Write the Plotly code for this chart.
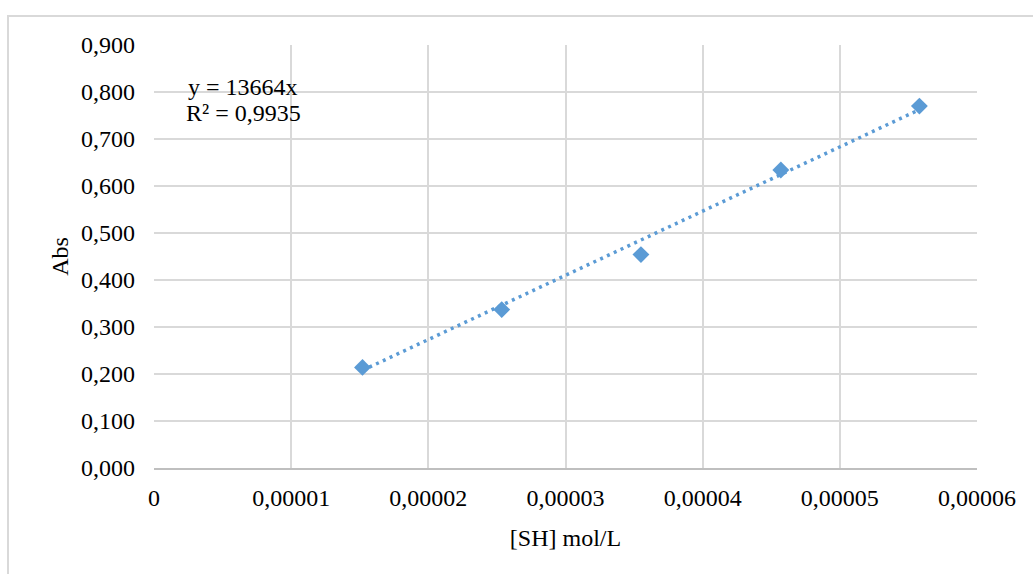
import plotly.graph_objects as go

# Data
conc = [1.52e-5, 2.535e-5, 3.55e-5, 4.57e-5, 5.58e-5]     # [SH] mol/L
absorb = [0.214, 0.337, 0.454, 0.634, 0.770]              # Abs
slope = 13664
r2_text = "0,9935"

x_ticks = [0, 1e-5, 2e-5, 3e-5, 4e-5, 5e-5, 6e-5]
x_ticktext = ["0", "0,00001", "0,00002", "0,00003", "0,00004", "0,00005", "0,00006"]
y_ticks = [0, 0.1, 0.2, 0.3, 0.4, 0.5, 0.6, 0.7, 0.8, 0.9]
y_ticktext = ["0,000", "0,100", "0,200", "0,300", "0,400", "0,500", "0,600", "0,700", "0,800", "0,900"]

blue = "#5B9BD5"
grid = "#D9D9D9"
font = "Liberation Serif"

trend_x = [min(conc), max(conc)]
trend_y = [slope * v for v in trend_x]

fig = go.Figure()
fig.add_trace(go.Scatter(
    x=trend_x, y=trend_y, mode="lines",
    line=dict(color=blue, width=3.5, dash="3px,4.5px"),
    showlegend=False, hoverinfo="skip"))
fig.add_trace(go.Scatter(
    x=conc, y=absorb, mode="markers",
    marker=dict(symbol="diamond", size=13, color=blue),
    showlegend=False))

fig.add_annotation(
    xref="paper", yref="paper", x=0.039, y=0.9008, xanchor="left", yanchor="middle",
    text=f"y = {slope}x", showarrow=False,
    font=dict(family=font, size=24, color="#000000"))
fig.add_annotation(
    xref="paper", yref="paper", x=0.036, y=0.8394, xanchor="left", yanchor="middle",
    text=f"R² = {r2_text}", showarrow=False,
    font=dict(family=font, size=24, color="#000000"))

# outer chart border (partially cropped in reference)
fig.add_shape(type="rect", xref="paper", yref="paper",
              x0=-0.1774, y0=-0.3, x1=1.1, y1=1.0685,
              line=dict(color=grid, width=2), fillcolor="rgba(0,0,0,0)", layer="below")

fig.update_layout(
    width=1033, height=574,
    margin=dict(l=154, r=56, t=45, b=105.5),
    paper_bgcolor="white", plot_bgcolor="white",
    font=dict(family=font, size=24, color="#000000"),
    xaxis=dict(
        range=[0, 6e-5], tickvals=x_ticks, ticktext=x_ticktext,
        showgrid=True, gridcolor=grid, gridwidth=1.5, zeroline=False,
        showline=True, linecolor="#BFBFBF", linewidth=1.5,
        ticks="", ticklabelstandoff=7,
        title=dict(text="[SH] mol/L", font=dict(size=24, family=font), standoff=20)),
    yaxis=dict(
        range=[0, 0.9], tickvals=y_ticks, ticktext=y_ticktext,
        showgrid=True, gridcolor=grid, gridwidth=1.5, zeroline=False,
        showline=False, ticks="", ticklabelstandoff=18,
        title=dict(text="Abs", font=dict(size=24, family=font), standoff=5)),
)

fig.write_html("out.html")
